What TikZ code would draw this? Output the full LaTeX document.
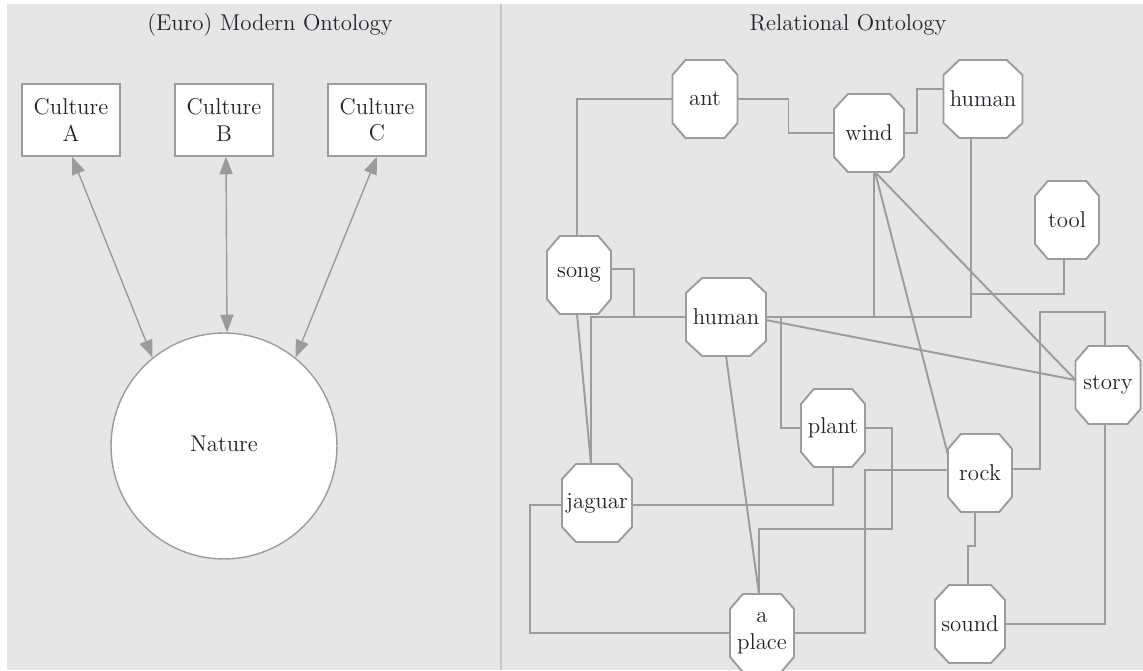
\documentclass[tikz,border=0pt]{standalone}
\usepackage{tikz}
\usetikzlibrary{arrows.meta,calc,positioning}
\definecolor{panelgray}{HTML}{E6E6E6}
\definecolor{rulegray}{HTML}{C8C8C8}
\definecolor{linkgray}{HTML}{9C9C9C}
\definecolor{tipgray}{HTML}{9A9B9F}
\definecolor{ink}{HTML}{23232E}

\begin{document}
\begin{tikzpicture}[x=0.02cm,y=0.02cm,
  font=\fontsize{13}{15}\selectfont, text=ink,
  title/.style={font=\fontsize{13}{14}\selectfont},
  culture/.style={draw=linkgray,line width=0.8pt,fill=white,align=center,
    minimum width=1.96cm,minimum height=1.44cm,inner sep=0pt},
  nature/.style={circle,draw=linkgray,line width=0.8pt,fill=white,
    minimum size=4.52cm,inner sep=0pt},
  dual/.style={draw=tipgray,line width=0.8pt,
    {Triangle[length=10pt,width=7.5pt]}-{Triangle[length=10pt,width=7.5pt]}},
  octo/.style={draw=linkgray,line width=1.1pt,fill=white,line join=miter},
  word/.style={inner sep=0pt,outer sep=0pt,align=center,minimum height=1.56cm},
  link/.style={draw=linkgray,line width=1.1pt}]
  \useasboundingbox (0,0) rectangle (1143,670);
  \fill[panelgray] (7,0) rectangle (1143,666);
  \draw[rulegray,line width=1.1pt] (501,0) -- (501,666);

  \node[title] (ltitle) at (270,645) {(Euro) Modern Ontology};
  \node[title] (rtitle) at (848,645) {Relational Ontology};

  % left panel
  \node[culture] (cA) at (71,550) {Culture\\A};
  \node[culture] (cB) at (224,550) {Culture\\B};
  \node[culture] (cC) at (377,550) {Culture\\C};
  \node[nature] (nature) at (224,224) {\raisebox{3pt}{Nature}};
  \draw[dual] ($(cA.south)+(1,0)$) -- (nature.129);
  \draw[dual] ($(cB.south)+(2,0)$) -- ($(nature.north)+(3,0)$);
  \draw[dual] (cC.south) -- (nature.51);

  % right panel
  \foreach \n/\x/\y/\w/\t in {ant/705/571/65/ant, wind/869/537/70/wind,
      humanT/983/571/79/human, tool/1067/450/64/tool, song/579/395/64/song,
      humanM/726/353/80/human, story/1108/285/65/story, plant/833/242/64/plant,
      rock/980/197/64/rock, jaguar/597/167/70/jaguar, sound/970/46/70/sound,
      place/762/37/64/{a\\place}} {
    \pgfmathsetmacro\hw{\w/2}
    \pgfmathsetmacro\cx{\w/5}
    \filldraw[octo] (\x-\hw+\cx,\y+39) -- (\x+\hw-\cx,\y+39) -- (\x+\hw,\y+24)
      -- (\x+\hw,\y-24) -- (\x+\hw-\cx,\y-39) -- (\x-\hw+\cx,\y-39)
      -- (\x-\hw,\y-24) -- (\x-\hw,\y+24) -- cycle;
    \node[word,minimum width=\w*0.02cm] (\n) at (\x,\y) {\t};
  }
  \coordinate (tj) at (971,376);
  \coordinate (sbend) at (1040,358);

  \draw[link] (ant.west) -| ($(song.north)+(-2,0)$);
  \draw[link] (ant.east) -- ++(51,0) |- (wind.west);
  \draw[link] (wind.east) -- ++(13,0) |- ($(humanT.west)+(0,10)$);
  \draw[link] ($(song.east)+(0,6)$) -- ++(23,0) |- (humanM.west);
  \draw[link] (humanM.west) -| ($(jaguar.north)+(-6,0)$);
  \draw[link] ($(song.south)+(-2,0)$) -- ($(jaguar.north)+(-6,0)$);
  \draw[link] ($(jaguar.east)+(0,-2)$) -| (plant.south);
  \draw[link] ($(jaguar.west)+(0,-2)$) -- ++(-32,0) |- (place.west);
  \draw[link] (humanM.south) -- ($(place.north)+(-3,0)$);
  \draw[link] (humanM.east) -- ++(15,0) |- (plant.west);
  \draw[link] (humanM.east) -| ($(wind.south)+(5,0)$);
  \draw[link] (humanM.east) -| ($(humanT.south)+(-12,0)$);
  \draw[link] ($(tool.south)+(-3,0)$) |- (tj);
  \draw[link] ($(humanM.east)+(0,-3)$) -- ($(story.west)+(0,5)$);
  \draw[link] ($(wind.south)+(6,0)$) -- ($(story.west)+(0,5)$);
  \draw[link] ($(wind.south)+(6,0)$) -- ($(rock.north west)+(0,-21)$);
  \draw[link] ($(story.north)+(-3,0)$) |- (sbend) |- ($(rock.east)+(0,4)$);
  \draw[link] ($(rock.south)+(-5,0)$) -- ++(0,-34) -| ($(sound.north)+(-2,0)$);
  \draw[link] (sound.east) -| ($(story.south)+(-3,0)$);
  \draw[link] ($(rock.west)+(0,3)$) -- ++(-83,0) |- (place.east);
  \draw[link] (plant.east) -| ++(27,-101) -| ($(place.north)+(-3,0)$);
\end{tikzpicture}
\end{document}
